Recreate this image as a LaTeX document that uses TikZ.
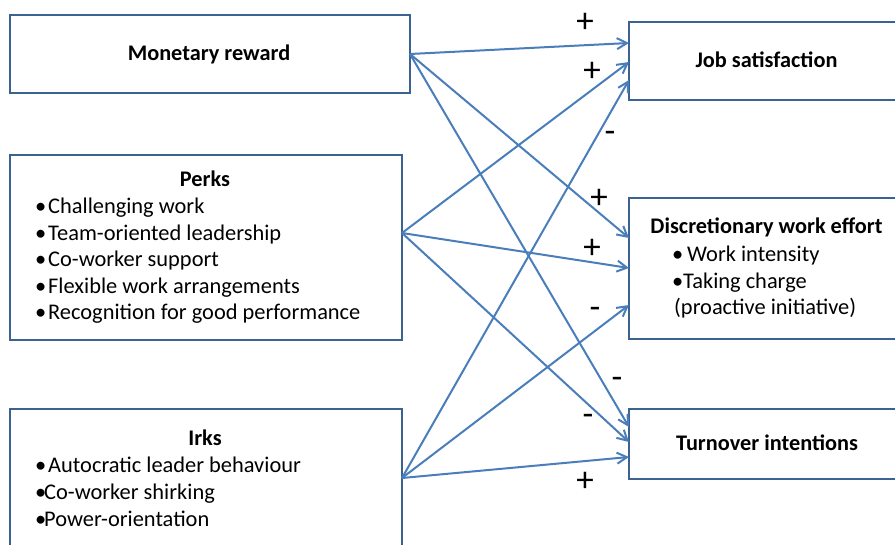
\documentclass[tikz,border=0pt]{standalone}
\usepackage{fontspec}
\setmainfont{Carlito}
\usetikzlibrary{arrows.meta,calc}

\definecolor{boxline}{RGB}{60,98,146}
\definecolor{arrowline}{RGB}{74,126,187}

\tikzset{
  frame/.style={draw=boxline, line width=2.5pt, fill=white, rectangle,
    inner sep=0pt, outer sep=0pt},
  title/.style={font=\fontsize{22.3}{27}\selectfont\bfseries, inner sep=0pt, anchor=base},
  item/.style={font=\fontsize{22.4}{27}\selectfont, inner sep=0pt, anchor=base west},
  sign/.style={font=\fontsize{35}{35}\selectfont, inner sep=0pt, anchor=base},
  link/.style={draw=arrowline, line width=2pt,
    -{Straight Barb[length=10pt,width=11pt,line width=2pt]}},
}
\newcommand{\bul}[1]{\makebox[#1][l]{•}}

\begin{document}
\begin{tikzpicture}[x=1pt,y=-1pt]
\clip (0,0) rectangle (895,545);
\fill[white] (0,0) rectangle (895,545);

% driver boxes
\node[frame, minimum width=400pt, minimum height=78pt] (money) at (210,54) {};
\node[frame, minimum width=392pt, minimum height=185pt] (perks) at (206,247.5) {};
\node[frame, minimum width=392pt, minimum height=151pt] (irks) at (206,484.5) {};

% outcome boxes
\node[frame, minimum width=276pt, minimum height=78pt] (job) at (767,61) {};
\node[frame, minimum width=276pt, minimum height=141pt] (disc) at (767,268.5) {};
\node[frame, minimum width=276pt, minimum height=70pt] (turn) at (767,444) {};

% box texts
\node[title] (moneyT) at (209,61) {Monetary reward};

\node[title] (perksT) at (205,187) {Perks};
\node[item] (p1) at (35,214) {\bul{13pt}Challenging work};
\node[item] (p2) at (35,240.5) {\bul{13pt}Team-oriented leadership};
\node[item] (p3) at (35,267) {\bul{13pt}Co-worker support};
\node[item] (p4) at (35,294) {\bul{13pt}Flexible work arrangements};
\node[item] (p5) at (35,320) {\bul{13pt}Recognition for good performance};

\node[title] (irksT) at (205,446) {Irks};
\node[item] (i1) at (35,472.7) {\bul{13pt}Autocratic leader behaviour};
\node[item] (i2) at (35,499.3) {\bul{9pt}Co-worker shirking};
\node[item] (i3) at (35,526) {\bul{9pt}Power-orientation};

\node[title] (jobT) at (766.5,67.7) {Job satisfaction};

\node[title] (discT) at (766.5,233.3) {Discretionary work effort};
\node[item] (d1) at (672,261.7) {\bul{15pt}Work intensity};
\node[item] (d2) at (672,288.3) {\bul{11pt}Taking charge};
\node[item] (d3) at (674,315) {(proactive initiative)};

\node[title] (turnT) at (767,450.7) {Turnover intentions};

% connector ports
\coordinate (perksOut) at ($(perks.east)+(0,-14.5)$);
\coordinate (irksOut)  at ($(irks.east)+(0,-6.5)$);
\coordinate (jobA) at ($(job.west)+(0,-18)$);
\coordinate (jobB) at ($(job.west)+(0,1)$);
\coordinate (jobC) at ($(job.west)+(0,19)$);
\coordinate (discA) at ($(disc.west)+(0,-30.5)$);
\coordinate (discB) at ($(disc.west)+(0,-0.5)$);
\coordinate (discC) at ($(disc.west)+(0,36.5)$);
\coordinate (turnA) at ($(turn.west)+(0,-17)$);
\coordinate (turnB) at ($(turn.west)+(0,-2)$);
\coordinate (turnC) at ($(turn.west)+(0,13)$);

% causal links
\draw[link] (money.east) -- (jobA);
\draw[link] (money.east) -- (discA);
\draw[link] (money.east) -- (turnA);
\draw[link] (perksOut) -- (jobB);
\draw[link] (perksOut) -- (discB);
\draw[link] (perksOut) -- (turnB);
\draw[link] (irksOut) -- (jobC);
\draw[link] (irksOut) -- (discC);
\draw[link] (irksOut) -- (turnC);

% signs of the effects
\node[sign] (s1) at (585,33) {+};
\node[sign] (s2) at (592,82) {+};
\node[sign] (s3) at (610,143) {-};
\node[sign] (s4) at (599,209) {+};
\node[sign] (s5) at (592,259) {+};
\node[sign] (s6) at (595,319) {-};
\node[sign] (s7) at (617,389) {-};
\node[sign] (s8) at (588,426) {-};
\node[sign] (s9) at (585,491) {+};
\end{tikzpicture}
\end{document}
